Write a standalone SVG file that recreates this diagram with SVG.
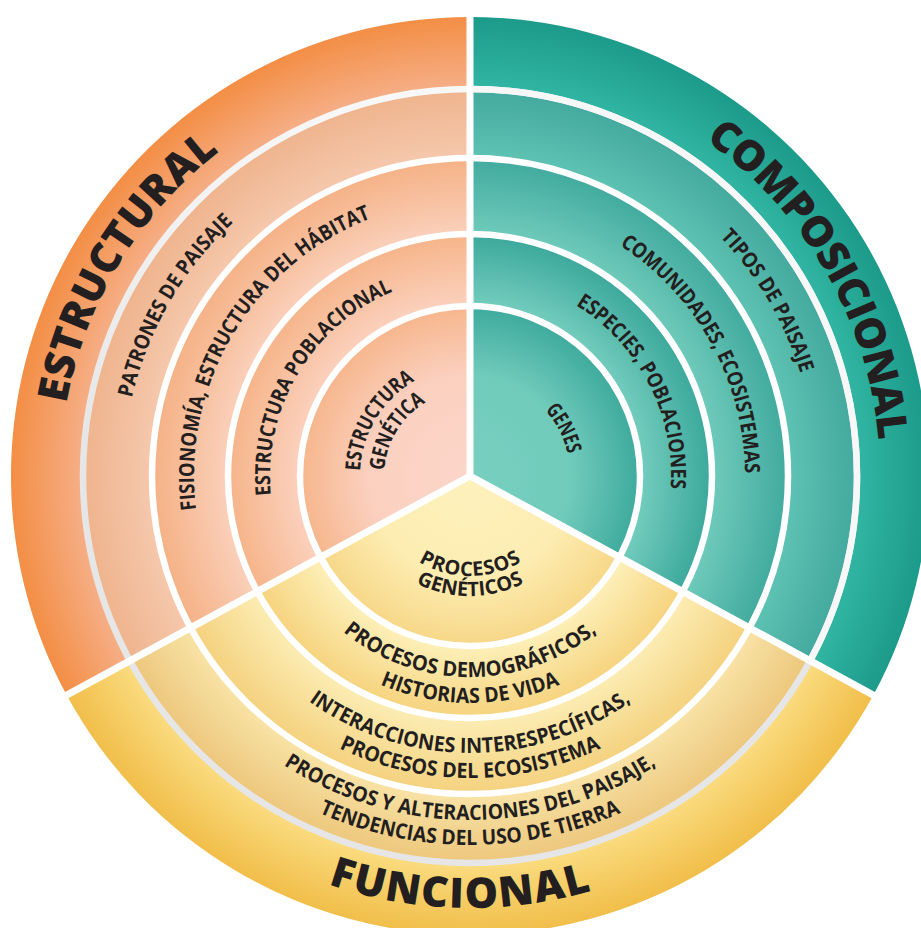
<svg xmlns="http://www.w3.org/2000/svg" width="921" height="928" viewBox="0 0 921 928">
<style>
.t{font-family:"Open Sans","Noto Sans","DejaVu Sans",sans-serif;font-weight:700;font-size:21px;fill:#231F20;text-anchor:middle}
.s{font-size:20px}
.h{font-family:"Open Sans","Noto Sans","DejaVu Sans",sans-serif;font-weight:800;font-size:42px;fill:#231F20;text-anchor:middle}
.ring{fill:none;stroke:#FFFFFF;stroke-width:6.5}
.div{stroke:#FFFFFF;stroke-width:7}
</style>
<defs>
<radialGradient id="gOr" gradientUnits="userSpaceOnUse" cx="470" cy="476" r="459">
<stop offset="0" stop-color="#FCD6CA"/>
<stop offset="0.22" stop-color="#FBD0BF"/>
<stop offset="0.3704" stop-color="#F6B68C"/>
<stop offset="0.3704" stop-color="#FBD1BE"/>
<stop offset="0.5272" stop-color="#F6B489"/>
<stop offset="0.5272" stop-color="#FAD0BB"/>
<stop offset="0.6928" stop-color="#F5B185"/>
<stop offset="0.6928" stop-color="#F6C8AD"/>
<stop offset="0.8431" stop-color="#EEB48D"/>
<stop offset="0.8431" stop-color="#F6AF88"/>
<stop offset="1" stop-color="#F38E45"/>
</radialGradient>
<radialGradient id="gTe" gradientUnits="userSpaceOnUse" cx="470" cy="476" r="459">
<stop offset="0" stop-color="#78CFC0"/>
<stop offset="0.22" stop-color="#70CBBB"/>
<stop offset="0.3704" stop-color="#3EAA9D"/>
<stop offset="0.3704" stop-color="#74CDBE"/>
<stop offset="0.5272" stop-color="#3BA89B"/>
<stop offset="0.5272" stop-color="#6FCBBB"/>
<stop offset="0.6928" stop-color="#41AA9E"/>
<stop offset="0.6928" stop-color="#5EC3B3"/>
<stop offset="0.8431" stop-color="#44A99E"/>
<stop offset="0.8431" stop-color="#32B6A4"/>
<stop offset="1" stop-color="#1C9A8A"/>
</radialGradient>
<radialGradient id="gYe" gradientUnits="userSpaceOnUse" cx="470" cy="476" r="459">
<stop offset="0" stop-color="#FEF1BD"/>
<stop offset="0.22" stop-color="#FDEDB2"/>
<stop offset="0.3704" stop-color="#F7D788"/>
<stop offset="0.3704" stop-color="#FDF0B9"/>
<stop offset="0.5272" stop-color="#F6D37E"/>
<stop offset="0.5272" stop-color="#FCEDB4"/>
<stop offset="0.6928" stop-color="#F4D17E"/>
<stop offset="0.6928" stop-color="#F8E3A6"/>
<stop offset="0.8431" stop-color="#EDC77C"/>
<stop offset="0.8431" stop-color="#FADC80"/>
<stop offset="1" stop-color="#F1BE4A"/>
</radialGradient>
<linearGradient id="gGrey" gradientUnits="userSpaceOnUse" x1="0" y1="89" x2="0" y2="863">
<stop offset="0" stop-color="#F8F8F8"/>
<stop offset="0.45" stop-color="#E6E6E6"/>
<stop offset="1" stop-color="#E6E6E6"/>
</linearGradient>
<path id="c410" d="M66.23,404.80 A410,410 0 0 1 873.77,404.80"/>
<path id="c347" d="M128.27,415.74 A347,347 0 0 1 811.73,415.74"/>
<path id="c346" d="M129.26,415.92 A346,346 0 0 1 810.74,415.92"/>
<path id="c276" d="M198.19,428.07 A276,276 0 0 1 741.81,428.07"/>
<path id="c275" d="M199.18,428.25 A275,275 0 0 1 740.82,428.25"/>
<path id="c200" d="M273.04,441.27 A200,200 0 0 1 666.96,441.27"/>
<path id="c201" d="M272.05,441.10 A201,201 0 0 1 667.95,441.10"/>
<path id="c110" d="M361.67,456.90 A110,110 0 0 1 578.33,456.90"/>
<path id="c86" d="M385.31,461.07 A86,86 0 0 1 554.69,461.07"/>
<path id="c100" d="M371.52,458.63 A100,100 0 0 1 568.48,458.63"/>
<path id="w100" d="M371.52,493.37 A100,100 0 0 0 568.48,493.37"/>
<path id="w120" d="M351.82,496.84 A120,120 0 0 0 588.18,496.84"/>
<path id="w201" d="M272.05,510.90 A201,201 0 0 0 667.95,510.90"/>
<path id="w227" d="M246.45,515.42 A227,227 0 0 0 693.55,515.42"/>
<path id="w277" d="M197.21,524.10 A277,277 0 0 0 742.79,524.10"/>
<path id="w302" d="M172.59,528.44 A302,302 0 0 0 767.41,528.44"/>
<path id="w344" d="M131.23,535.74 A344,344 0 0 0 808.77,535.74"/>
<path id="w369" d="M106.61,540.08 A369,369 0 0 0 833.39,540.08"/>
<path id="w432" d="M44.56,551.02 A432,432 0 0 0 895.44,551.02"/>
</defs>

<g id="sectors">
<path id="sector-estructural" d="M470,476 L66.6,695 A459,459 0 0 1 470,17 Z" fill="url(#gOr)"/>
<path id="sector-composicional" d="M470,476 L470,17 A459,459 0 0 1 873.4,695 Z" fill="url(#gTe)"/>
<path id="sector-funcional" d="M470,476 L873.4,695 A459,459 0 0 1 66.6,695 Z" fill="url(#gYe)"/>
</g>

<g id="connectors">
<circle cx="470" cy="476" r="387" fill="none" stroke="url(#gGrey)" stroke-width="6.5"/>
<path d="M470,89 A387,387 0 0 1 810.1,660.7" fill="none" stroke="#F7F7F7" stroke-width="6.5"/>
<circle class="ring" cx="470" cy="476" r="318"/>
<circle class="ring" cx="470" cy="476" r="242"/>
<circle class="ring" cx="470" cy="476" r="170"/>
<line class="div" x1="470" y1="476" x2="470" y2="4"/>
<line class="div" x1="470" y1="476" x2="883" y2="700.3"/>
<line class="div" x1="470" y1="476" x2="57" y2="700.3"/>
</g>

<g id="node-estructural">
<text class="h" transform="rotate(-58.75 470 476)"><textPath href="#c410" startOffset="50%" textLength="302" lengthAdjust="spacing">ESTRUCTURAL</textPath></text>
<text class="t" transform="rotate(-60 470 476)"><textPath href="#c347" startOffset="50%" textLength="206" lengthAdjust="spacingAndGlyphs">PATRONES DE PAISAJE</textPath></text>
<text class="t" transform="rotate(-59 470 476)"><textPath href="#c276" startOffset="50%" textLength="366" lengthAdjust="spacingAndGlyphs">FISIONOMÍA, ESTRUCTURA DEL HÁBITAT</textPath></text>
<text class="t" transform="rotate(-59.1 470 476)"><textPath href="#c200" startOffset="50%" textLength="254" lengthAdjust="spacingAndGlyphs">ESTRUCTURA POBLACIONAL</textPath></text>
<text class="t" transform="rotate(-58.8 470 476)"><textPath href="#c110" startOffset="50%" textLength="110" lengthAdjust="spacingAndGlyphs">ESTRUCTURA</textPath></text>
<text class="t" transform="rotate(-58.75 470 476)"><textPath href="#c86" startOffset="50%" textLength="83" lengthAdjust="spacingAndGlyphs">GENÉTICA</textPath></text>
</g>

<g id="node-composicional">
<text class="h" transform="rotate(60 470 476)"><textPath href="#c410" startOffset="50%" textLength="358" lengthAdjust="spacing">COMPOSICIONAL</textPath></text>
<text class="t" transform="rotate(59.5 470 476)"><textPath href="#c346" startOffset="50%" textLength="160" lengthAdjust="spacingAndGlyphs">TIPOS DE PAISAJE</textPath></text>
<text class="t" transform="rotate(61.2 470 476)"><textPath href="#c275" startOffset="50%" textLength="271" lengthAdjust="spacingAndGlyphs">COMUNIDADES, ECOSISTEMAS</textPath></text>
<text class="t" transform="rotate(62.7 470 476)"><textPath href="#c201" startOffset="50%" textLength="217" lengthAdjust="spacingAndGlyphs">ESPECIES, POBLACIONES</textPath></text>
<text class="t" transform="rotate(63 470 476)"><textPath href="#c100" startOffset="50%" textLength="50" lengthAdjust="spacingAndGlyphs">GENES</textPath></text>
</g>

<g id="node-funcional">
<text class="t s"><textPath href="#w100" startOffset="50%" textLength="108" lengthAdjust="spacing">PROCESOS</textPath></text>
<text class="t s"><textPath href="#w120" startOffset="50%" textLength="112" lengthAdjust="spacing">GENÉTICOS</textPath></text>
<text class="t"><textPath href="#w201" startOffset="50%" textLength="275" lengthAdjust="spacingAndGlyphs">PROCESOS DEMOGRÁFICOS,</textPath></text>
<text class="t"><textPath href="#w227" startOffset="50%" textLength="185" lengthAdjust="spacingAndGlyphs">HISTORIAS DE VIDA</textPath></text>
<text class="t"><textPath href="#w277" startOffset="50%" textLength="344" lengthAdjust="spacingAndGlyphs">INTERACCIONES INTERESPECÍFICAS,</textPath></text>
<text class="t"><textPath href="#w302" startOffset="50%" textLength="271" lengthAdjust="spacingAndGlyphs">PROCESOS DEL ECOSISTEMA</textPath></text>
<text class="t"><textPath href="#w344" startOffset="50%" textLength="394" lengthAdjust="spacingAndGlyphs">PROCESOS Y ALTERACIONES DEL PAISAJE,</textPath></text>
<text class="t"><textPath href="#w369" startOffset="50%" textLength="311" lengthAdjust="spacingAndGlyphs">TENDENCIAS DEL USO DE TIERRA</textPath></text>
<text class="h" transform="rotate(1.4 470 476)"><textPath href="#w432" startOffset="50%" textLength="268" lengthAdjust="spacing">FUNCIONAL</textPath></text>
</g>
</svg>
